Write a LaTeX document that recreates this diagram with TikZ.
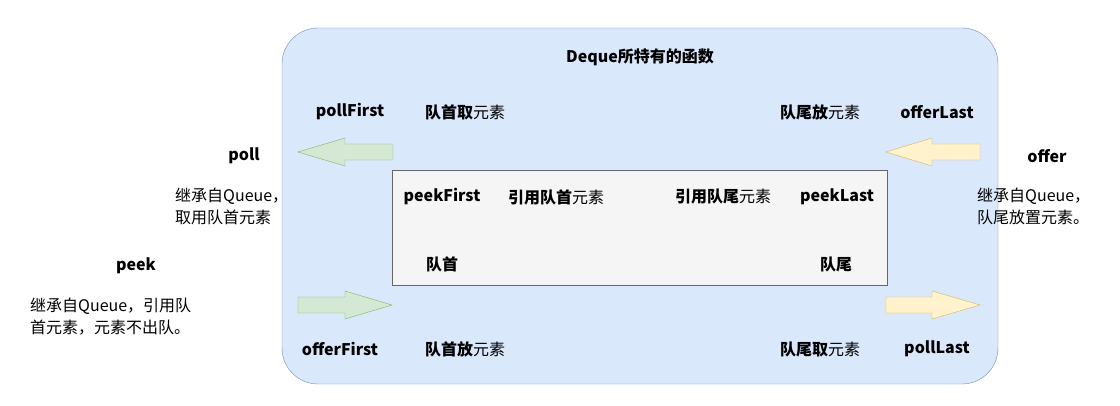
\documentclass[tikz,border=0pt]{standalone}
\usepackage{fontspec}
\setmainfont{Noto Sans CJK SC}
\begin{document}
\begin{tikzpicture}[x=1pt,y=-1pt,
  every node/.style={font=\fontsize{16}{22}\selectfont,inner sep=0pt},
  lbl/.style={anchor=center},
  para/.style={anchor=north west,align=left},
  garrow/.style={fill={rgb,255:red,213;green,232;blue,212},draw={rgb,255:red,130;green,179;blue,102}},
  yarrow/.style={fill={rgb,255:red,255;green,242;blue,204},draw={rgb,255:red,214;green,182;blue,86}}]
\useasboundingbox (0,0) rectangle (1120,406);
\draw[fill={rgb,255:red,218;green,232;blue,252},draw={rgb,255:red,108;green,142;blue,191},rounded corners=36] (282,28) rectangle (998,384);
\draw[fill={rgb,255:red,245;green,245;blue,245},draw={rgb,255:red,102;green,102;blue,102}] (392,170) rectangle (887,285);
% arrows
\draw[garrow] (393,144) -- (345,144) -- (345,138) -- (298,152) -- (345,166) -- (345,160) -- (393,160) -- cycle;
\draw[yarrow] (980,144) -- (932,144) -- (932,138) -- (886,152) -- (932,166) -- (932,160) -- (980,160) -- cycle;
\draw[garrow] (298,297) -- (345,297) -- (345,291) -- (392,305) -- (345,319) -- (345,313) -- (298,313) -- cycle;
\draw[yarrow] (886,297) -- (932,297) -- (932,291) -- (980,305) -- (932,319) -- (932,313) -- (886,313) -- cycle;
% texts
\node[lbl] (t0) at (640,57) {\textbf{Deque所特有的函数}};
\node[lbl] (t1) at (350,112) {\textbf{pollFirst}};
\node[lbl] (t2) at (465,112) {\textbf{队首取}元素};
\node[lbl] (t3) at (820,112) {\textbf{队尾放}元素};
\node[lbl] (t4) at (937,112) {\textbf{offerLast}};
\node[lbl] (t5) at (244,156) {\textbf{poll}};
\node[lbl] (t6) at (1047,156) {\textbf{offer}};
\node[para] (t7) at (175,188) {继承自Queue，\\取用队首元素};
\node[para] (t8) at (977,188) {继承自Queue，\\队尾放置元素。};
\node[lbl] (t9) at (136,266) {\textbf{peek}};
\node[para] (t10) at (30,298) {继承自Queue，引用队\\首元素，元素不出队。};
\node[lbl] (t11) at (442,197) {\textbf{peekFirst}};
\node[lbl] (t12) at (556,197) {\textbf{引用队首}元素};
\node[lbl] (t13) at (723,197) {\textbf{引用队尾}元素};
\node[lbl] (t14) at (837,197) {\textbf{peekLast}};
\node[lbl] (t15) at (442,264) {\textbf{队首}};
\node[lbl] (t16) at (836,264) {\textbf{队尾}};
\node[lbl] (t17) at (340,349) {\textbf{offerFirst}};
\node[lbl] (t18) at (465,349) {\textbf{队首放}元素};
\node[lbl] (t19) at (820,349) {\textbf{队尾取}元素};
\node[lbl] (t20) at (937,349) {\textbf{pollLast}};
\end{tikzpicture}
\end{document}
